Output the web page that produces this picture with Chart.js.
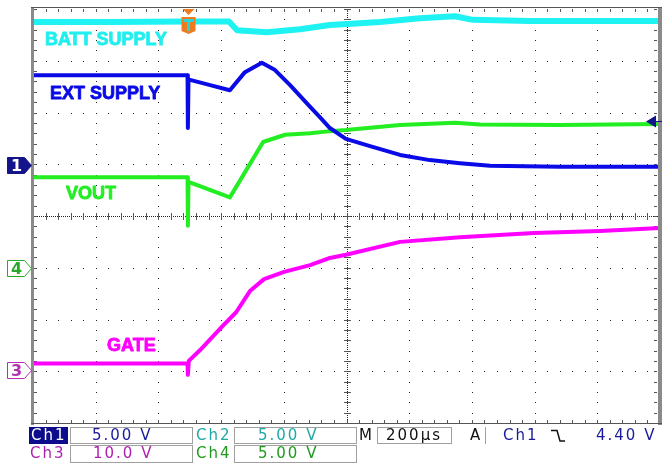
<!DOCTYPE html>
<html>
<head>
<meta charset="utf-8">
<script src="https://cdn.jsdelivr.net/npm/chart.js@4.4.0/dist/chart.umd.min.js"></script>
<style>
  html, body { margin: 0; padding: 0; background: #fff; }
  #wrap { width: 662px; height: 463px; position: relative; }
</style>
</head>
<body>
<div id="wrap"><canvas id="scope"></canvas></div>
<script>
// time across the screen in µs (200 µs/div, 10 div), level in divisions from centre (±4)

// Ch2 - BATT SUPPLY
const battTime = [0, 250, 490, 625, 651, 746, 852, 947, 1107, 1234, 1346, 1403, 1585, 1809, 2000];
const battDiv  = [3.75, 3.75, 3.76, 3.76, 3.59, 3.55, 3.61, 3.69, 3.75, 3.82, 3.86, 3.79, 3.77, 3.77, 3.77];

// Ch1 - EXT SUPPLY
const extTime = [0, 250, 491, 493, 494, 496, 501, 565, 628, 676, 730, 772, 820, 884, 915, 947, 998, 1075, 1171, 1266, 1362, 1458, 1681, 2000];
const extDiv  = [2.72, 2.72, 2.72, 2.72, 1.70, 2.63, 2.63, 2.53, 2.43, 2.78, 2.96, 2.82, 2.53, 2.11, 1.91, 1.70, 1.49, 1.35, 1.18, 1.08, 1.02, 0.97, 0.95, 0.95];

// Ch4 - VOUT
const voutTime = [0, 250, 491, 493, 494, 496, 628, 734, 804, 884, 947, 998, 1171, 1346, 1426, 1681, 2000];
const voutDiv  = [0.75, 0.75, 0.75, 0.75, -0.19, 0.66, 0.36, 1.43, 1.57, 1.60, 1.64, 1.66, 1.76, 1.80, 1.77, 1.76, 1.78];

// Ch3 - GATE
const gateTime = [0, 250, 491, 493, 494, 497, 533, 603, 648, 692, 737, 801, 884, 947, 998, 1171, 1362, 1598, 1809, 2000];
const gateDiv  = [-2.85, -2.85, -2.85, -2.85, -3.07, -2.80, -2.59, -2.14, -1.86, -1.45, -1.22, -1.08, -0.95, -0.81, -0.75, -0.50, -0.41, -0.33, -0.29, -0.23];

// scope settings
const triggerTime = 494;
const triggerLevelDiv = 1.84;
const groundMarks = [
  { ch: '1', div: 0.99, fill: '#14148c', stroke: '#14148c', text: '#ffffff' },
  { ch: '4', div: -1.00, fill: '#ffffff', stroke: '#2aa82a', text: '#2aa82a' },
  { ch: '3', div: -2.97, fill: '#ffffff', stroke: '#b030b0', text: '#b030b0' }
];
const traceLabels = [
  { text: 'BATT SUPPLY', t: 38, div: 3.40, color: '#22eeee' },
  { text: 'EXT SUPPLY', t: 54, div: 2.36, color: '#0a0ae6' },
  { text: 'VOUT', t: 105, div: 0.43, color: '#22ee22' },
  { text: 'GATE', t: 236, div: -2.51, color: '#ff00ff' }
];

function pts(t, v) {
  return t.map((tt, i) => ({ x: tt, y: v[i] }));
}

const scopeGrid = {
  id: 'scopeGrid',
  beforeDatasetsDraw(chart) {
    const { ctx, chartArea: a, scales: { x, y } } = chart;
    ctx.save();
    ctx.fillStyle = '#222';
    // dotted division lines
    for (let i = 1; i < 10; i++) {
      if (i === 5) continue;
      const px = Math.round(x.getPixelForValue(i * 200));
      for (let k = 0; k <= 40; k++) ctx.fillRect(px, Math.round(y.getPixelForValue(-4 + k * 0.2)), 1, 1);
    }
    for (let j = -3; j <= 3; j++) {
      if (j === 0) continue;
      const py = Math.round(y.getPixelForValue(j));
      for (let k = 0; k <= 50; k++) ctx.fillRect(Math.round(x.getPixelForValue(k * 40)), py, 1, 1);
    }
    // centre cross with minor ticks
    const cx = Math.round(x.getPixelForValue(1000));
    const cy = Math.round(y.getPixelForValue(0));
    for (let px = a.left; px < a.right; px += 2) ctx.fillRect(px, cy, 1, 1);
    for (let py = a.top; py < a.bottom; py += 2) ctx.fillRect(cx, py, 1, 1);
    ctx.fillStyle = '#555';
    for (let k = 0; k <= 50; k++) ctx.fillRect(Math.round(x.getPixelForValue(k * 40)), cy - 3, 1, 7);
    for (let k = 0; k <= 40; k++) ctx.fillRect(cx - 3, Math.round(y.getPixelForValue(-4 + k * 0.2)), 7, 1);
    // ticks along the frame
    for (let k = 0; k <= 50; k++) {
      const px = Math.round(x.getPixelForValue(k * 40));
      ctx.fillRect(px, a.top, 1, 3);
      ctx.fillRect(px, a.bottom - 3, 1, 3);
    }
    for (let k = 0; k <= 40; k++) {
      const py = Math.round(y.getPixelForValue(-4 + k * 0.2));
      ctx.fillRect(a.left + 1, py, 3, 1);
      ctx.fillRect(a.right - 6, py, 3, 1);
    }
    ctx.restore();
  },
  afterDatasetsDraw(chart) {
    const { ctx, chartArea: a, scales: { x, y } } = chart;
    ctx.save();
    // frame
    ctx.fillStyle = '#8a8a8a';
    ctx.fillRect(a.left - 2, a.top - 2, 3, a.bottom - a.top + 4);
    ctx.fillRect(a.right - 2, a.top - 2, 4, a.bottom - a.top + 4);
    ctx.fillStyle = '#555';
    ctx.fillRect(a.left - 2, a.top - 2, a.right - a.left + 4, 1);
    ctx.fillRect(a.left - 2, a.bottom, a.right - a.left + 4, 1);

    // trace labels (heavy, like the scope's bold font)
    ctx.font = 'bold 18px "Liberation Sans", Arial, sans-serif';
    ctx.textBaseline = 'middle';
    ctx.textAlign = 'left';
    ctx.lineWidth = 0.8;
    ctx.lineJoin = 'round';
    traceLabels.forEach(l => {
      const lx = x.getPixelForValue(l.t), ly = y.getPixelForValue(l.div);
      ctx.fillStyle = l.color;
      ctx.strokeStyle = l.color;
      ctx.fillText(l.text, lx, ly);
      ctx.strokeText(l.text, lx, ly);
    });

    // ground markers on the left
    groundMarks.forEach(m => {
      const yc = Math.round(y.getPixelForValue(m.div)) + 0.5;
      ctx.beginPath();
      ctx.moveTo(7.5, yc - 8);
      ctx.lineTo(24.5, yc - 8);
      ctx.lineTo(31.5, yc);
      ctx.lineTo(24.5, yc + 8);
      ctx.lineTo(7.5, yc + 8);
      ctx.closePath();
      ctx.fillStyle = m.fill;
      ctx.fill();
      ctx.strokeStyle = m.stroke;
      ctx.lineWidth = 1;
      ctx.stroke();
      ctx.fillStyle = m.text;
      ctx.font = 'bold 16px "DejaVu Sans", sans-serif';
      ctx.textAlign = 'center';
      ctx.fillText(m.ch, 16.5, yc + 1);
    });

    // trigger position marker
    const tx = Math.round(x.getPixelForValue(triggerTime)) + 0.5;
    ctx.fillStyle = '#f07a1e';
    ctx.beginPath();
    ctx.moveTo(tx - 6, 9);
    ctx.lineTo(tx + 6, 9);
    ctx.lineTo(tx, 15);
    ctx.closePath();
    ctx.fill();
    ctx.beginPath();
    ctx.moveTo(tx - 7, 17);
    ctx.lineTo(tx + 7, 17);
    ctx.lineTo(tx + 7, 31);
    ctx.lineTo(tx, 34);
    ctx.lineTo(tx - 7, 31);
    ctx.closePath();
    ctx.fill();
    ctx.fillStyle = '#2ad6d6';
    ctx.fillRect(tx - 5, 19, 10, 3);
    ctx.fillRect(tx - 1.5, 19, 3, 12);

    // trigger level marker
    const ty = Math.round(y.getPixelForValue(triggerLevelDiv)) + 0.5;
    ctx.fillStyle = '#14148c';
    ctx.beginPath();
    ctx.moveTo(646, ty);
    ctx.lineTo(656, ty - 6);
    ctx.lineTo(656, ty + 6);
    ctx.closePath();
    ctx.fill();
    ctx.strokeStyle = '#14148c';
    ctx.beginPath();
    ctx.moveTo(655, ty);
    ctx.lineTo(662, ty);
    ctx.stroke();
    ctx.restore();
  },
  afterDraw(chart) {
    const { ctx } = chart;
    ctx.save();
    const box = (x0, y0, w, h) => {
      ctx.fillStyle = '#ffffff';
      ctx.fillRect(x0, y0, w, h);
      ctx.strokeStyle = '#a0a0a0';
      ctx.lineWidth = 1;
      ctx.strokeRect(x0 + 0.5, y0 + 0.5, w - 1, h - 1);
    };
    const text = (s, x0, yc, color) => {
      ctx.fillStyle = color;
      ctx.fillText(s, x0, yc);
    };
    ctx.font = '15px "DejaVu Sans", sans-serif';
    ctx.letterSpacing = '2px';
    ctx.textBaseline = 'middle';
    ctx.textAlign = 'left';

    // row 1
    ctx.fillStyle = '#0c0c8c';
    ctx.fillRect(29, 427, 39, 17);
    text('Ch1', 31, 436, '#ffffff');
    box(70, 427, 123, 17);
    text('5.00 V', 92, 436, '#1a1a9a');
    text('Ch2', 196, 436, '#1fa8a8');
    box(234, 427, 123, 17);
    text('5.00 V', 258, 436, '#1fa8a8');
    text('M', 359, 436, '#111111');
    box(377, 427, 75, 17);
    text('200µs', 386, 436, '#111111');
    text('A', 470, 436, '#111111');
    ctx.fillStyle = '#a0a0a0';
    ctx.fillRect(485, 427, 1, 17);
    text('Ch1', 503, 436, '#1a1a9a');
    // falling edge symbol
    ctx.strokeStyle = '#111111';
    ctx.lineWidth = 1.5;
    ctx.beginPath();
    ctx.moveTo(551, 430.5);
    ctx.lineTo(557, 430.5);
    ctx.lineTo(560, 441);
    ctx.lineTo(565, 441);
    ctx.stroke();
    text('4.40 V', 596, 436, '#1a1a9a');

    // row 2
    text('Ch3', 30, 454, '#b020b0');
    box(70, 445, 123, 18);
    text('10.0 V', 93, 454, '#b020b0');
    text('Ch4', 196, 454, '#1f9a1f');
    box(234, 445, 123, 18);
    text('5.00 V', 258, 454, '#1f9a1f');
    ctx.letterSpacing = '0px';
    ctx.restore();
  }
};

new Chart(document.getElementById('scope'), {
  type: 'line',
  data: {
    datasets: [
      { label: 'EXT SUPPLY', data: pts(extTime, extDiv), borderColor: '#0a0ae6', borderWidth: 4 },
      { label: 'BATT SUPPLY', data: pts(battTime, battDiv), borderColor: '#1ef2f2', borderWidth: 6 },
      { label: 'VOUT', data: pts(voutTime, voutDiv), borderColor: '#22ee22', borderWidth: 4 },
      { label: 'GATE', data: pts(gateTime, gateDiv), borderColor: '#ff00ff', borderWidth: 4 }
    ]
  },
  options: {
    responsive: true,
    maintainAspectRatio: false,
    animation: false,
    layout: { padding: { left: 33, right: 2, top: 9, bottom: 40 } },
    elements: { point: { radius: 0 }, line: { tension: 0, borderJoinStyle: 'round' } },
    scales: {
      x: { type: 'linear', min: 0, max: 2000, display: false },
      y: { type: 'linear', min: -4, max: 4, display: false }
    },
    plugins: {
      legend: { display: false },
      tooltip: { enabled: false }
    }
  },
  plugins: [scopeGrid]
});
</script>
</body>
</html>
